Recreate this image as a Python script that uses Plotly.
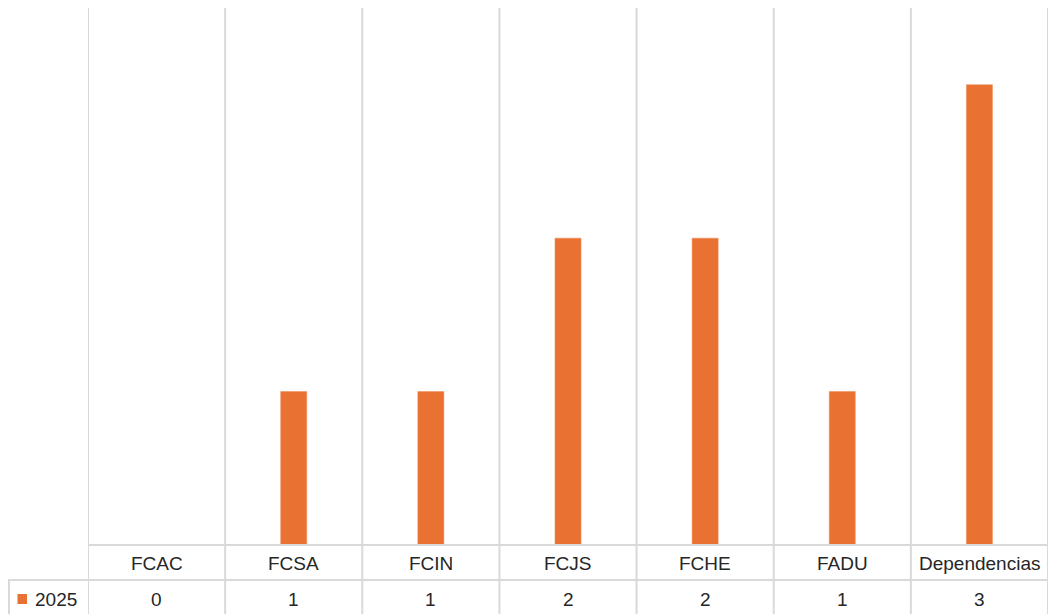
import plotly.graph_objects as go

categories = ["FCAC", "FCSA", "FCIN", "FCJS", "FCHE", "FADU", "Dependencias"]
values_2025 = [0, 1, 1, 2, 2, 1, 3]
series_name = "2025"

W, H = 1049, 614
L = 88     # plot left at x=88
R = 1      # plot right at x=1048
T = 8      # plot top at y=8
B = 614 - 545   # baseline at y=545
plot_w = W - L - R
plot_h = H - T - B

def py(ypx):
    return (H - B - ypx) / plot_h

def px(xpx):
    return (xpx - L) / plot_w

grid = "#d9d9d9"
orange = "#E97132"
font_family = "Liberation Sans, Arial, sans-serif"
txt = "#262626"

fig = go.Figure()
fig.add_trace(go.Bar(
    x=list(range(len(categories))), y=values_2025, name=series_name,
    marker=dict(color=orange, line=dict(color="#F08A55", width=0.5)),
    width=0.19, showlegend=False,
))

shapes = []
n = len(categories)
for i in range(n + 1):
    shapes.append(dict(type="line", xref="x", yref="paper",
                       x0=i - 0.5, x1=i - 0.5, y0=py(616), y1=1,
                       line=dict(color=grid, width=2)))
shapes.append(dict(type="line", xref="paper", yref="paper",
                   x0=0, x1=1, y0=py(545), y1=py(545),
                   line=dict(color=grid, width=2)))
shapes.append(dict(type="line", xref="paper", yref="paper",
                   x0=px(8), x1=1, y0=py(580), y1=py(580),
                   line=dict(color=grid, width=2)))
shapes.append(dict(type="line", xref="paper", yref="paper",
                   x0=px(9), x1=px(9), y0=py(616), y1=py(580),
                   line=dict(color=grid, width=2)))
shapes.append(dict(type="rect", xref="paper", yref="paper",
                   x0=px(17.5), x1=px(27), y0=py(604), y1=py(594),
                   fillcolor=orange, line=dict(width=0)))

annotations = []
for i, c in enumerate(categories):
    annotations.append(dict(x=i, y=py(563.5), xref="x", yref="paper",
                            text=c, showarrow=False,
                            font=dict(size=19, color=txt, family=font_family),
                            xanchor="center", yanchor="middle"))
    annotations.append(dict(x=i, y=py(599.5), xref="x", yref="paper",
                            text=str(values_2025[i]), showarrow=False,
                            font=dict(size=19, color=txt, family=font_family),
                            xanchor="center", yanchor="middle"))
annotations.append(dict(x=px(33), y=py(599.5), xref="paper", yref="paper",
                        text=series_name, showarrow=False,
                        font=dict(size=19, color=txt, family=font_family),
                        xanchor="left", yanchor="middle"))

fig.update_layout(
    width=W, height=H,
    margin=dict(l=L, r=R, t=T, b=B, pad=0),
    paper_bgcolor="white", plot_bgcolor="white",
    xaxis=dict(range=[-0.5, n - 0.5], showticklabels=False, showgrid=False,
               zeroline=False, showline=False, fixedrange=True),
    yaxis=dict(range=[0, 3.5], showticklabels=False, showgrid=False,
               zeroline=False, showline=False, fixedrange=True),
    shapes=shapes, annotations=annotations,
    showlegend=False,
)

fig.write_html(
    "out.html",
    config={"displayModeBar": False},
    post_script=("document.body.style.margin='0';"
                 "document.body.style.overflow='hidden';"
                 "document.documentElement.style.overflow='hidden';"),
)
